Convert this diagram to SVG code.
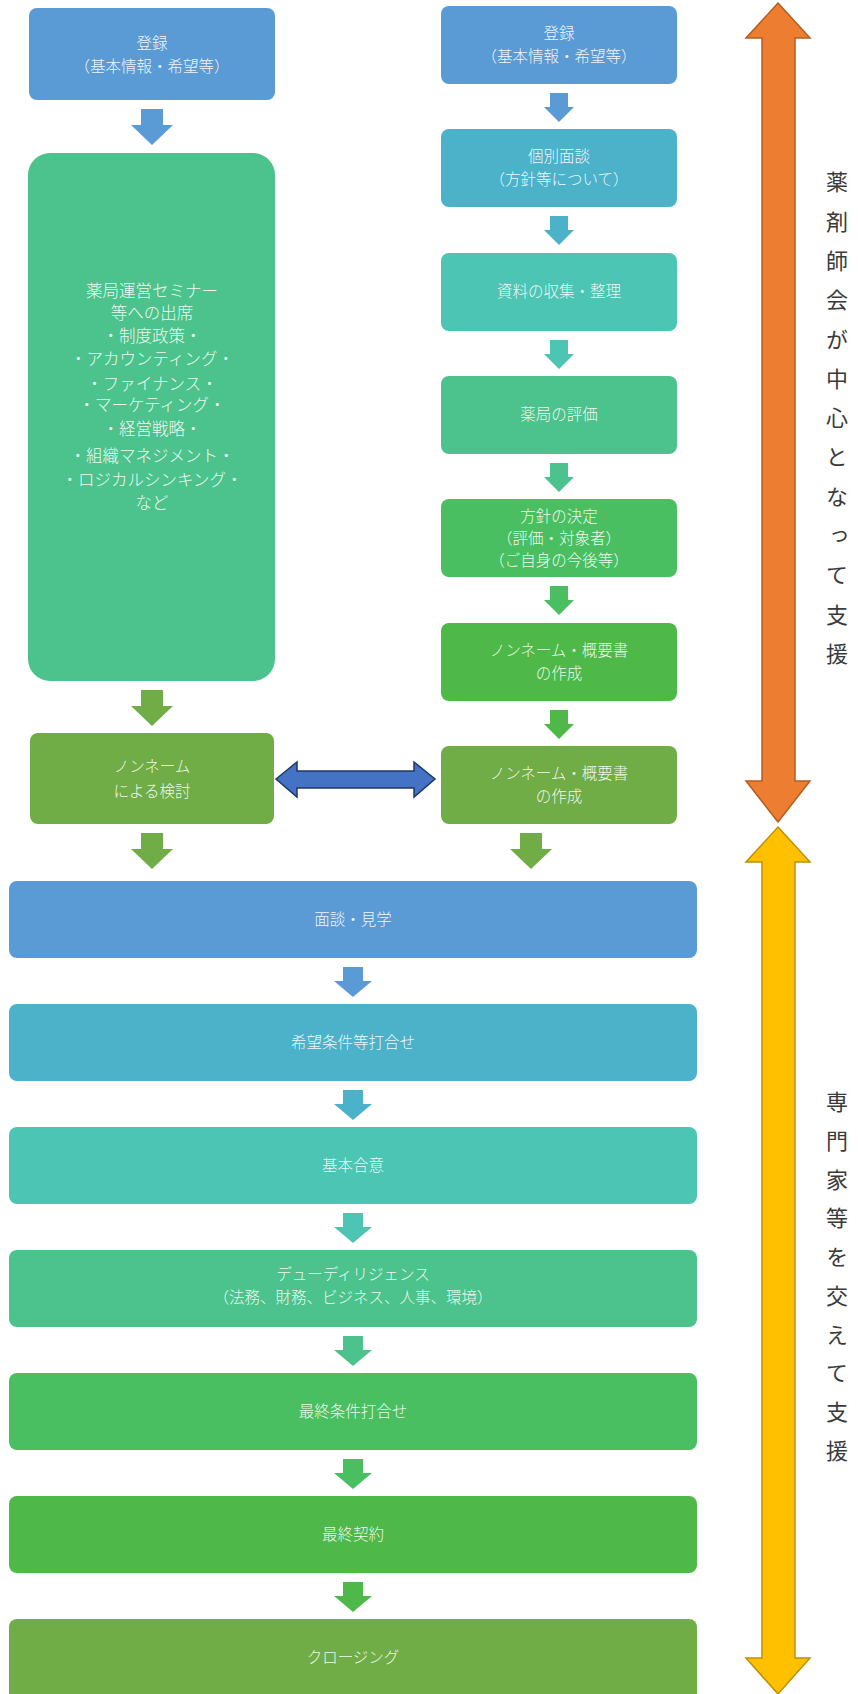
<svg xmlns="http://www.w3.org/2000/svg" width="858" height="1694" viewBox="0 0 858 1694">
<style>
  .t { font-family: "Noto Sans CJK JP", "Noto Sans", sans-serif; font-size: 15.5px; font-weight: 300; fill: #FFFFFF; fill-opacity: 0.92; text-anchor: middle; }
  .tb { font-size: 16.5px; }
  .vt { font-family: "Noto Sans CJK JP", "Noto Sans", sans-serif; font-size: 22px; fill: #3A3A3A; writing-mode: vertical-rl; text-orientation: upright; }
  .c1 { fill: #5B9BD5; }
  .c2 { fill: #4BB2CA; }
  .c3 { fill: #4CC5B4; }
  .c4 { fill: #4CC38C; }
  .c5 { fill: #4ABF62; }
  .c6 { fill: #4EB849; }
  .c7 { fill: #70AD47; }
</style>
<rect width="858" height="1694" fill="#FFFFFF"/>

<!-- Left column -->
<g id="L1"><rect class="c1" x="29" y="8" width="246" height="92" rx="8"/>
  <text class="t" x="152" y="49">登録</text><text class="t" x="152" y="72">（基本情報・希望等）</text></g>
<g id="L2"><rect class="c4" x="28" y="153" width="247" height="528" rx="22"/>
  <text class="t tb" x="152" y="297">薬局運営セミナー</text>
  <text class="t tb" x="152" y="319">等への出席</text>
  <text class="t tb" x="152" y="342">・制度政策・</text>
  <text class="t tb" x="152" y="365">・アカウンティング・</text>
  <text class="t tb" x="152" y="390">・ファイナンス・</text>
  <text class="t tb" x="152" y="411">・マーケティング・</text>
  <text class="t tb" x="152" y="435">・経営戦略・</text>
  <text class="t tb" x="152" y="462">・組織マネジメント・</text>
  <text class="t tb" x="152" y="486">・ロジカルシンキング・</text>
  <text class="t tb" x="152" y="509">など</text></g>
<g id="L3"><rect class="c7" x="30" y="733" width="244" height="91" rx="8"/>
  <text class="t" x="152" y="772">ノンネーム</text><text class="t" x="152" y="797">による検討</text></g>

<!-- Right column -->
<g id="R1"><rect class="c1" x="441" y="6" width="236" height="78" rx="8"/>
  <text class="t" x="559" y="39">登録</text><text class="t" x="559" y="62">（基本情報・希望等）</text></g>
<g id="R2"><rect class="c2" x="441" y="129" width="236" height="78" rx="8"/>
  <text class="t" x="559" y="162">個別面談</text><text class="t" x="559" y="185">（方針等について）</text></g>
<g id="R3"><rect class="c3" x="441" y="253" width="236" height="78" rx="8"/>
  <text class="t" x="559" y="297">資料の収集・整理</text></g>
<g id="R4"><rect class="c4" x="441" y="376" width="236" height="78" rx="8"/>
  <text class="t" x="559" y="420">薬局の評価</text></g>
<g id="R5"><rect class="c5" x="441" y="499" width="236" height="78" rx="8"/>
  <text class="t" x="559" y="522">方針の決定</text><text class="t" x="559" y="544">（評価・対象者）</text><text class="t" x="559" y="566">（ご自身の今後等）</text></g>
<g id="R6"><rect class="c6" x="441" y="623" width="236" height="78" rx="8"/>
  <text class="t" x="559" y="656">ノンネーム・概要書</text><text class="t" x="559" y="679">の作成</text></g>
<g id="R7"><rect class="c7" x="441" y="746" width="236" height="78" rx="8"/>
  <text class="t" x="559" y="779">ノンネーム・概要書</text><text class="t" x="559" y="802">の作成</text></g>

<!-- Bottom full-width -->
<g id="B1"><rect class="c1" x="9" y="881" width="688" height="77" rx="8"/><text class="t" x="353" y="925">面談・見学</text></g>
<g id="B2"><rect class="c2" x="9" y="1004" width="688" height="77" rx="8"/><text class="t" x="353" y="1048">希望条件等打合せ</text></g>
<g id="B3"><rect class="c3" x="9" y="1127" width="688" height="77" rx="8"/><text class="t" x="353" y="1171">基本合意</text></g>
<g id="B4"><rect class="c4" x="9" y="1250" width="688" height="77" rx="8"/>
  <text class="t" x="353" y="1280">デューディリジェンス</text><text class="t" x="353" y="1303">（法務、財務、ビジネス、人事、環境）</text></g>
<g id="B5"><rect class="c5" x="9" y="1373" width="688" height="77" rx="8"/><text class="t" x="353" y="1417">最終条件打合せ</text></g>
<g id="B6"><rect class="c6" x="9" y="1496" width="688" height="77" rx="8"/><text class="t" x="353" y="1540">最終契約</text></g>
<g id="B7"><rect class="c7" x="9" y="1619" width="688" height="85" rx="8"/><text class="t" x="353" y="1663">クロージング</text></g>

<!-- Side labels -->
<g id="side-top">
  <path d="M778,3 L810,38 L795,38 L795,781 L810,781 L778,822 L746,781 L762,781 L762,38 L746,38 Z" fill="#ED7D31" stroke="#B55D1E" stroke-width="1.5" stroke-linejoin="miter"/>
  <text class="vt" x="837" y="171" letter-spacing="17.3">薬剤師会が中心となって支援</text>
</g>
<g id="side-bottom">
  <path d="M778,827 L810,862 L795,862 L795,1658 L810,1658 L778,1694 L746,1658 L762,1658 L762,862 L746,862 Z" fill="#FFC000" stroke="#BF9000" stroke-width="1.5"/>
  <text class="vt" x="837" y="1091" letter-spacing="16.7">専門家等を交えて支援</text>
</g>

<!-- Connectors -->
<g id="connectors">
  <path class="c1" d="M141,109 H163 V125 H173 L152,145 L131,125 H141 Z"/>
  <path class="c7" d="M141,690 H163 V706 H173 L152,726 L131,706 H141 Z"/>
  <path class="c7" d="M141,833 H163 V849 H173 L152,869 L131,849 H141 Z"/>
  <path class="c7" d="M520,833 H542 V849 H552 L531,869 L510,849 H520 Z"/>

  <path class="c1" d="M550,93 H568 V107 H574 L559,122 L544,107 H550 Z"/>
  <path class="c2" d="M550,216 H568 V230 H574 L559,245 L544,230 H550 Z"/>
  <path class="c3" d="M550,340 H568 V354 H574 L559,369 L544,354 H550 Z"/>
  <path class="c4" d="M550,463 H568 V477 H574 L559,492 L544,477 H550 Z"/>
  <path class="c5" d="M550,586 H568 V600 H574 L559,615 L544,600 H550 Z"/>
  <path class="c6" d="M550,710 H568 V724 H574 L559,739 L544,724 H550 Z"/>

  <path class="c1" d="M343,967 H363 V981 H372 L353,997 L334,981 H343 Z"/>
  <path class="c2" d="M343,1090 H363 V1104 H372 L353,1120 L334,1104 H343 Z"/>
  <path class="c3" d="M343,1213 H363 V1227 H372 L353,1243 L334,1227 H343 Z"/>
  <path class="c4" d="M343,1336 H363 V1350 H372 L353,1366 L334,1350 H343 Z"/>
  <path class="c5" d="M343,1459 H363 V1473 H372 L353,1489 L334,1473 H343 Z"/>
  <path class="c6" d="M343,1582 H363 V1596 H372 L353,1612 L334,1596 H343 Z"/>

  <path d="M276,779 L297,762 V771 H414 V762 L435,779 L414,797 V788 H297 V797 Z" fill="#4472C4" stroke="#1F3864" stroke-width="1.5" stroke-linejoin="miter"/>
</g>
</svg>
